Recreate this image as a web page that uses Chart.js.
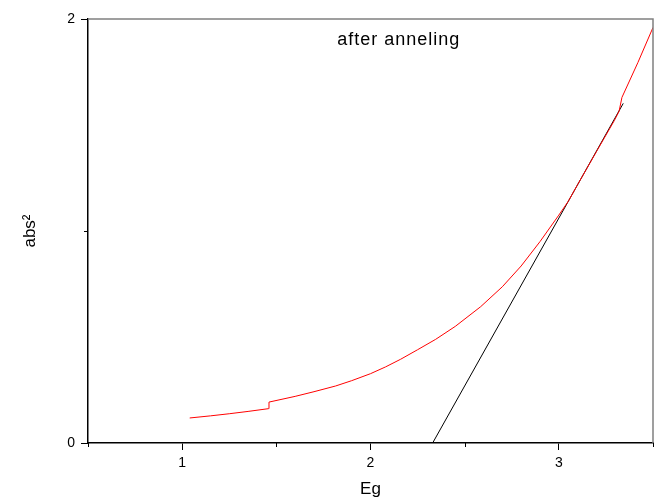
<!DOCTYPE html>
<html>
<head>
<meta charset="utf-8">
<script src="https://cdn.jsdelivr.net/npm/chart.js@4"></script>
<style>
  html, body { margin: 0; padding: 0; background: #fff; }
  #wrap { width: 654px; height: 504px; }
</style>
</head>
<body>
<div id="wrap"><canvas id="absChart" width="654" height="504"></canvas></div>
<script>
// data
const egValues = [1.04, 1.15, 1.25, 1.35, 1.459, 1.461, 1.6, 1.7, 1.815, 1.9, 2.0, 2.08, 2.16, 2.25, 2.346, 2.45, 2.585, 2.7, 2.8, 2.9, 3.0, 3.05, 3.1, 3.2, 3.294, 3.32, 3.335, 3.42, 3.5];
const absValues = [0.118, 0.128, 0.138, 0.149, 0.162, 0.193, 0.220, 0.242, 0.269, 0.294, 0.327, 0.359, 0.395, 0.440, 0.489, 0.550, 0.643, 0.737, 0.835, 0.950, 1.075, 1.140, 1.219, 1.375, 1.520, 1.565, 1.630, 1.795, 1.960];
const fitEg = [2.33, 3.342];
const fitAbs = [0, 1.602];
const xMajorTicks = [1, 2, 3];
const xMinorTicks = [0.5, 1.5, 2.5, 3.5];
const yMajorTicks = [0, 2];
const yMinorTicks = [1];
const noteText = "after anneling";

const FONT = "'Liberation Sans', Arial, sans-serif";

const minorTicks = {
  id: "minorTicks",
  afterDraw(chart) {
    const { ctx, chartArea, scales } = chart;
    ctx.save();
    // grey frame top and right
    ctx.strokeStyle = "#808080";
    ctx.lineWidth = 1.5;
    ctx.beginPath();
    ctx.moveTo(chartArea.left, chartArea.top);
    ctx.lineTo(chartArea.right, chartArea.top);
    ctx.lineTo(chartArea.right, chartArea.bottom);
    ctx.stroke();

    ctx.strokeStyle = "#000";
    ctx.lineWidth = 1;
    ctx.beginPath();
    xMinorTicks.forEach(v => {
      const x = Math.round(scales.x.getPixelForValue(v)) + 0.5;
      ctx.moveTo(x, chartArea.bottom);
      ctx.lineTo(x, chartArea.bottom + 4);
    });
    yMinorTicks.forEach(v => {
      const y = Math.round(scales.y.getPixelForValue(v)) + 0.5;
      ctx.moveTo(chartArea.left, y);
      ctx.lineTo(chartArea.left - 4, y);
    });
    ctx.stroke();

    ctx.fillStyle = "#000";
    ctx.font = "18px " + FONT;
    ctx.letterSpacing = "1px";
    ctx.textAlign = "center";
    ctx.textBaseline = "middle";
    ctx.fillText(noteText, scales.x.getPixelForValue(2.15), scales.y.getPixelForValue(1.9));
    ctx.restore();
  }
};

new Chart(document.getElementById("absChart"), {
  type: "scatter",
  data: {
    datasets: [
      {
        data: egValues.map((x, i) => ({ x: x, y: absValues[i] })),
        showLine: true,
        borderColor: "#ff0000",
        borderWidth: 1,
        pointRadius: 0,
        tension: 0,
      },
      {
        data: fitEg.map((x, i) => ({ x: x, y: fitAbs[i] })),
        showLine: true,
        borderColor: "#000000",
        borderWidth: 1,
        pointRadius: 0,
      },
    ],
  },
  options: {
    responsive: false,
    animation: false,
    layout: { padding: { top: 19, right: 1, left: 0, bottom: 0 } },
    plugins: { legend: { display: false }, tooltip: { enabled: false } },
    scales: {
      x: {
        type: "linear",
        min: 0.5,
        max: 3.5,
        afterBuildTicks: s => { s.ticks = xMajorTicks.map(v => ({ value: v })); },
        afterFit: s => { s.height = 61; },
        border: { color: "#000", width: 1.5 },
        grid: { drawOnChartArea: false, tickLength: 7, color: "#000" },
        ticks: { color: "#000", font: { family: FONT, size: 14 }, padding: 5, maxRotation: 0 },
        title: { display: true, text: "Eg", color: "#000", font: { family: FONT, size: 17 }, padding: { top: 9 } },
      },
      y: {
        type: "linear",
        min: 0,
        max: 2,
        afterBuildTicks: s => { s.ticks = yMajorTicks.map(v => ({ value: v })); },
        afterFit: s => { s.width = 88; },
        border: { color: "#000", width: 1.5 },
        grid: { drawOnChartArea: false, tickLength: 7, color: "#000" },
        ticks: { color: "#000", font: { family: FONT, size: 14 }, padding: 6 },
        title: { display: true, text: "abs²", color: "#000", font: { family: FONT, size: 17 }, padding: { top: 20, bottom: 0 } },
      },
    },
  },
  plugins: [minorTicks],
});
</script>
</body>
</html>
